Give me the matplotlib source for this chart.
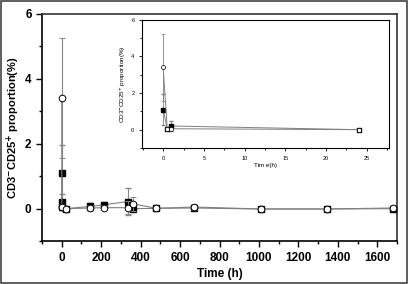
import matplotlib.pyplot as plt
from matplotlib.ticker import MultipleLocator
from matplotlib.patches import Rectangle

plt.rcParams['font.family'] = ['Liberation Sans', 'DejaVu Sans']

# sampling times (h)
time_h = [0, 0.5, 1, 24, 144, 216, 336, 360, 480, 672, 1008, 1344, 1680]
# filled squares
sq = [1.1, 0.05, 0.2, 0.0, 0.07, 0.12, 0.22, 0.0, 0.01, 0.02, -0.01, -0.01, 0.0]
sq_err = [0.87, 0.05, 0.25, 0.02, 0.1, 0.1, 0.42, 0.03, 0.03, 0.03, 0.02, 0.02, 0.03]
# open circles
circ = [3.4, 0.05, 0.05, 0.0, 0.02, 0.03, 0.03, 0.15, 0.01, 0.05, -0.01, -0.01, 0.02]
circ_err = [1.85, 0.05, 0.1, 0.02, 0.08, 0.08, 0.2, 0.22, 0.03, 0.1, 0.02, 0.02, 0.03]

n_inset = 4  # first 24 h shown in the inset

ylab = r'CD3$^{\mathbf{-}}$CD25$^{\mathbf{+}}$ proportion(%)'

fig = plt.figure(figsize=(4.08, 2.84), dpi=100)
fig.patches.append(Rectangle((0.002, 0.002), 0.996, 0.996, transform=fig.transFigure,
                             fill=False, edgecolor='#444444', linewidth=1.2))

ax = fig.add_axes([0.103, 0.151, 0.870, 0.800])
ax.errorbar(time_h, sq, yerr=sq_err, fmt='-s', color='gray', ecolor='#888888', lw=0.8,
            elinewidth=0.8, capsize=2.5, mfc='black', mec='black', ms=4.2, zorder=3)
ax.errorbar(time_h, circ, yerr=circ_err, fmt='-o', color='gray', ecolor='#888888', lw=0.8,
            elinewidth=0.8, capsize=2.5, mfc='white', mec='black', mew=0.7, ms=4.8, zorder=4)
ax.set_xlim(-100, 1700)
ax.set_ylim(-1, 6)
ax.xaxis.set_major_locator(MultipleLocator(200))
ax.xaxis.set_minor_locator(MultipleLocator(100))
ax.yaxis.set_major_locator(MultipleLocator(2))
ax.yaxis.set_minor_locator(MultipleLocator(1))
ax.tick_params(which='both', direction='out', top=False, right=False, width=1)
ax.tick_params(which='major', length=4, labelsize=8.5)
ax.tick_params(which='minor', length=2.5)
for lab in ax.get_xticklabels() + ax.get_yticklabels():
    lab.set_fontweight('bold')
for s in ax.spines.values():
    s.set_linewidth(1.2)
ax.spines['top'].set_color('#333333')
ax.spines['right'].set_color('#333333')
ax.set_xlabel('Time (h)', fontsize=8.5, fontweight='bold', labelpad=3)
ax.set_ylabel(ylab, fontsize=8, fontweight='bold', labelpad=2)

# inset: first 24 h
ins = fig.add_axes([0.348, 0.479, 0.605, 0.451])
ins.errorbar(time_h[:n_inset], sq[:n_inset], yerr=sq_err[:n_inset], fmt='-s', color='gray',
             ecolor='gray', lw=0.7, elinewidth=0.6, capsize=1.5, mfc='black', mec='black', ms=2.5)
ins.errorbar(time_h[:n_inset], circ[:n_inset], yerr=circ_err[:n_inset], fmt='-o', color='gray',
             ecolor='gray', lw=0.7, elinewidth=0.6, capsize=1.5, mfc='white', mec='black',
             mew=0.5, ms=3)
ins.set_xlim(-2.6, 27.7)
ins.set_ylim(-1, 6)
ins.xaxis.set_major_locator(MultipleLocator(5))
ins.xaxis.set_minor_locator(MultipleLocator(2.5))
ins.yaxis.set_major_locator(MultipleLocator(2))
ins.yaxis.set_minor_locator(MultipleLocator(1))
ins.tick_params(which='both', direction='out', top=False, right=False, width=0.6, labelsize=4)
ins.tick_params(which='major', length=2)
ins.tick_params(which='minor', length=1.2)
for s in ins.spines.values():
    s.set_linewidth(0.8)
ins.set_xlabel('Tim e(h)', fontsize=4.5, labelpad=2)
ins.set_ylabel(ylab, fontsize=4.5, labelpad=2)

fig.savefig('out.png', dpi=100)
